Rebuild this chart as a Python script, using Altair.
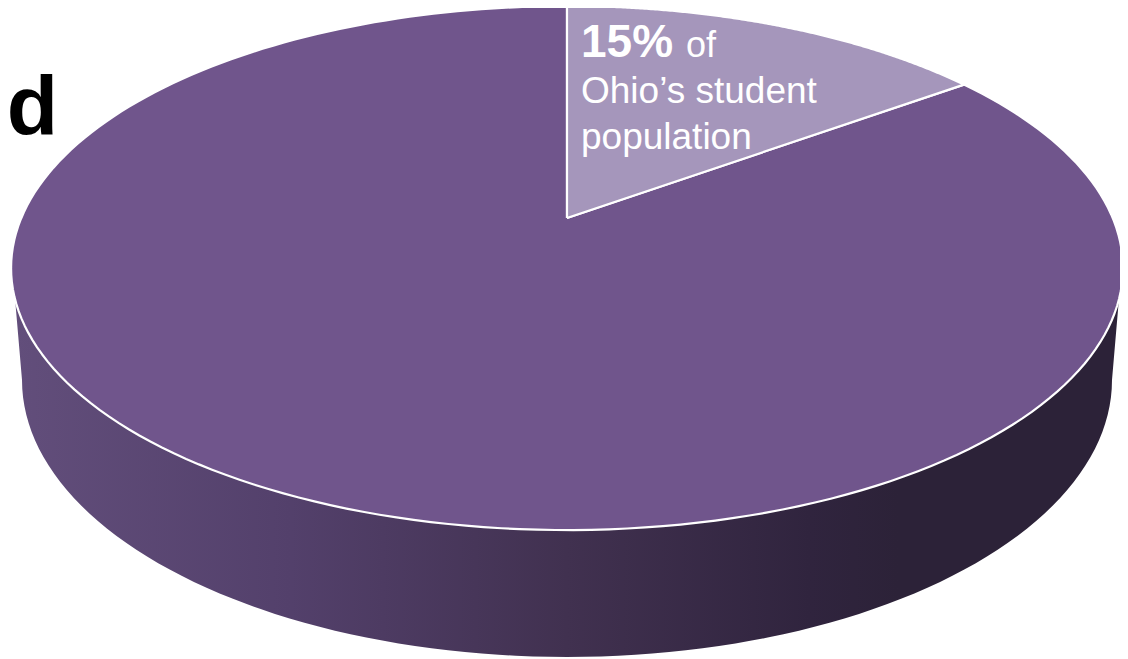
import altair as alt
import pandas as pd

shares = [15, 85]
slice_colors = ["#a596bb", "#70558c"]

label_texts = ["15%", "of", "Ohio’s student", "population"]
label_x = [581, 686, 581, 581]
label_y = [57, 57, 103, 149]
label_sizes = [46, 36, 37, 37]
label_weights = ["bold", "normal", "normal", "normal"]

title_text = ["ed"]
title_x = [58]
title_y = [135]

wall_stops = [(0.0, "#624e7b"), (0.25, "#53406b"), (0.5, "#413150"), (0.72, "#30243e"), (0.8, "#2c2238"), (1.0, "#2c2238")]

X = alt.X("x:Q", scale=alt.Scale(domain=[8, 1120], nice=False, zero=False), axis=None)
Y = alt.Y("y:Q", scale=alt.Scale(domain=[659, 8], nice=False, zero=False), axis=None)
TAU = "6.283185307"

# perspective view of the pie's top face: centre (cx, cy)
face = dict(cx=567, cy=268, a=545.7, b=262, c=50, k=0.191)


def slice_layer(start, share, color):
    s = f"({start}+clamp(datum.i/200,0,1)*{share})/100*{TAU}"
    d = f"(1+{face['k']}*cos({s}))"
    xe = f"(datum.i<0||datum.i>200)?{face['cx']}:{face['cx']}+{face['a']}*sin({s})/{d}"
    ye = (f"(datum.i<0||datum.i>200)?{face['cy']-face['c']}:"
          f"{face['cy']}-({face['b']}*cos({s})+{face['c']})/{d}")
    return (
        alt.Chart(alt.sequence(-1, 202, as_="i"))
        .transform_calculate(x=xe, y=ye)
        .mark_line(fill=color, stroke="#ffffff", strokeWidth=2.2, strokeJoin="round", interpolate="linear")
        .encode(x=X, y=Y, order="i:Q")
    )


wall_x = (f"datum.i<=100?567+556*sin((97+datum.i/100*166)*PI/180)"
          f":567+545*sin((270-(datum.i-101)/100*180)*PI/180)")
wall_y = (f"datum.i<=100?268-262*cos((97+datum.i/100*166)*PI/180)"
          f":380-277*cos((270-(datum.i-101)/100*180)*PI/180)")
wall = (
    alt.Chart(alt.sequence(0, 202, as_="i"))
    .transform_calculate(x=wall_x, y=wall_y)
    .mark_line(
        fill=alt.Gradient(
            gradient="linear",
            x1=0, x2=1, y1=0, y2=0,
            stops=[alt.GradientStop(offset=o, color=c) for o, c in wall_stops],
        ),
        strokeWidth=0,
        stroke="transparent",
    )
    .encode(x=X, y=Y, order="i:Q")
)

title_df = pd.DataFrame({"x": title_x, "y": title_y, "t": title_text})
title = (
    alt.Chart(title_df)
    .mark_text(align="right", baseline="alphabetic", font="Liberation Sans", fontSize=84, fontWeight="bold", color="#000000")
    .encode(x=X, y=Y, text="t:N")
)

labels_df = pd.DataFrame({"x": label_x, "y": label_y, "t": label_texts, "s": label_sizes, "w": label_weights})
labels = [
    alt.Chart(labels_df[labels_df["w"] == w])
    .mark_text(align="left", baseline="alphabetic", font="Liberation Sans", fontWeight=w, color="#ffffff")
    .encode(x=X, y=Y, text="t:N", size=alt.Size("s:Q", scale=None, legend=None))
    for w in ["bold", "normal"]
]

starts = [0, shares[0]]
slices = [slice_layer(st, sh, c) for st, sh, c in zip(reversed(starts), reversed(shares), reversed(slice_colors))]

chart = alt.layer(title, wall, *slices, *labels).properties(
    width=1112, height=651, padding=0, autosize=alt.AutoSizeParams(type="none")
).configure_view(stroke=None)

chart.save("out.html", embed_options={"renderer": "svg", "actions": False})
